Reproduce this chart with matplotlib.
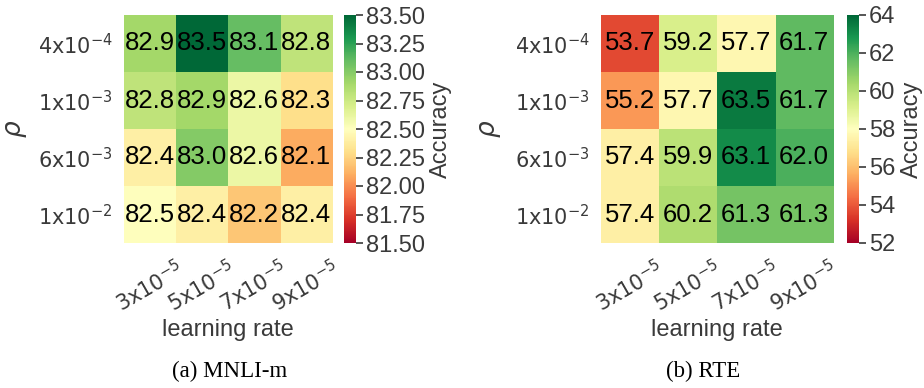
import matplotlib
matplotlib.use("Agg")
import matplotlib.pyplot as plt
import matplotlib.transforms as mtransforms
import numpy as np

rho_labels = [r"$4\mathrm{x}10^{-4}$", r"$1\mathrm{x}10^{-3}$", r"$6\mathrm{x}10^{-3}$", r"$1\mathrm{x}10^{-2}$"]
lr_labels = [r"$3\mathrm{x}10^{-5}$", r"$5\mathrm{x}10^{-5}$", r"$7\mathrm{x}10^{-5}$", r"$9\mathrm{x}10^{-5}$"]

mnli = [[82.9, 83.5, 83.1, 82.8],
        [82.8, 82.9, 82.6, 82.3],
        [82.4, 83.0, 82.6, 82.1],
        [82.5, 82.4, 82.2, 82.4]]
rte = [[53.7, 59.2, 57.7, 61.7],
       [55.2, 57.7, 63.5, 61.7],
       [57.4, 59.9, 63.1, 62.0],
       [57.4, 60.2, 61.3, 61.3]]

mnli_range = (81.5, 83.5)
rte_range = (52, 64)
mnli_ticks = [81.5, 81.75, 82.0, 82.25, 82.5, 82.75, 83.0, 83.25, 83.5]
rte_ticks = [52, 54, 56, 58, 60, 62, 64]

plt.rcParams['font.family'] = ['Liberation Sans', 'DejaVu Sans']
plt.rcParams['mathtext.fontset'] = 'dejavusans'

W, H = 924, 388
fig = plt.figure(figsize=(W / 100, H / 100), dpi=100)
tc = '#3a3a3a'

def box(x0, x1, y0, y1):
    return [x0 / W, 1 - y1 / H, (x1 - x0) / W, (y1 - y0) / H]

axes_list = []

def panel(data, rng, ticks, ax_box, cb_box, fmt, caption, cap_x, ylab_x, cblab_x, xlab_y):
    ax = fig.add_axes(box(*ax_box))
    cax = fig.add_axes(box(*cb_box))
    arr = np.array(data)
    im = ax.imshow(arr, cmap='RdYlGn', vmin=rng[0], vmax=rng[1], aspect='auto',
                   interpolation='nearest')
    for i in range(arr.shape[0]):
        for j in range(arr.shape[1]):
            ax.text(j, i, f"{arr[i, j]:.1f}", ha='center', va='center',
                    fontsize=18.5, color='black')
    ax.set_xticks(range(len(lr_labels)))
    ax.set_xticklabels(lr_labels, rotation=30, ha='center',
                       fontsize=15, color=tc)
    ax.set_yticks(range(len(rho_labels)))
    ax.set_yticklabels(rho_labels, fontsize=15, color=tc)
    ax.tick_params(axis='y', length=0, pad=8)
    ax.tick_params(axis='x', length=0, pad=10)
    for s in ax.spines.values():
        s.set_visible(False)
    ax.set_xlabel('learning rate', fontsize=17, color=tc)
    ax.xaxis.set_label_coords(0.5, (243 - xlab_y) / (ax_box[3] - ax_box[2]))
    ax.set_ylabel(r'$\rho$', fontsize=19, color=tc)
    ax.yaxis.set_label_coords((ylab_x - ax_box[0]) / (ax_box[1] - ax_box[0]), 0.5)
    cb = fig.colorbar(im, cax=cax, ticks=ticks)
    cb.outline.set_visible(False)
    cb.ax.tick_params(labelsize=17, colors=tc, length=5, width=1.2, pad=2)
    cb.ax.set_yticklabels([fmt.format(t) for t in ticks])
    cb.set_label('Accuracy', fontsize=17, color=tc)
    cb.ax.yaxis.set_label_coords((cblab_x - cb_box[0]) / (cb_box[1] - cb_box[0]), 0.5)
    fig.text(cap_x / W, 1 - 371 / H, caption, ha='center', va='center',
             fontsize=16.5, family='Liberation Serif', color='black')
    axes_list.append(ax)

panel(mnli, mnli_range, mnli_ticks, (124, 332, 15, 243), (344, 356, 15, 243),
      "{:.2f}", "(a) MNLI-m", 230, 29, 430, 319)
panel(rte, rte_range, rte_ticks, (601, 833, 15, 243), (847, 859, 15, 243),
      "{:.0f}", "(b) RTE", 703, 503, 901, 319)

# center each rotated x tick label's box on its tick
fig.canvas.draw()
renderer = fig.canvas.get_renderer()
for ax in axes_list:
    for k, lab in enumerate(ax.get_xticklabels()):
        bb = lab.get_window_extent(renderer)
        tick_px = ax.transData.transform((k, 0))[0]
        shift = tick_px - 0.5 * (bb.x0 + bb.x1)
        lab.set_transform(lab.get_transform() +
                          mtransforms.ScaledTranslation(shift / fig.dpi, 0, fig.dpi_scale_trans))

fig.savefig('out.png', dpi=100)
